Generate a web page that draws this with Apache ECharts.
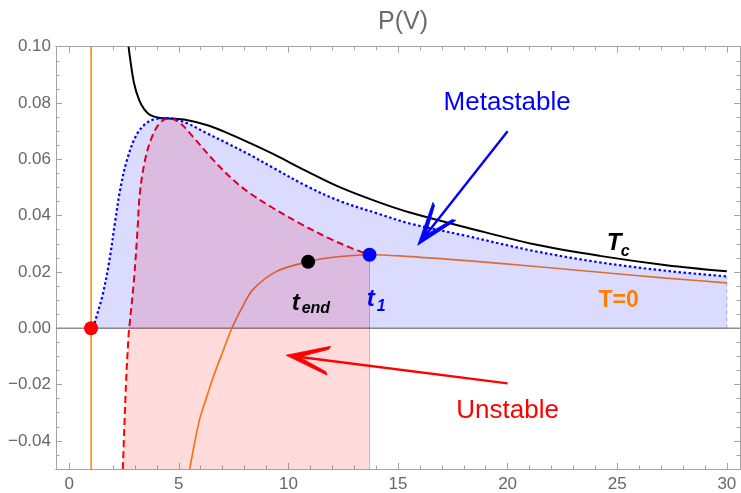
<!DOCTYPE html>
<html>
<head>
<meta charset="utf-8">
<script src="https://cdn.jsdelivr.net/npm/echarts@6/dist/echarts.min.js"></script>
<style>
  html, body { margin: 0; padding: 0; background: #ffffff; }
  #chart { width: 741px; height: 493px; }
</style>
</head>
<body>
<div id="chart"></div>
<script>
// Critical isotherm T = Tc
const tcX = [2.71, 2.77, 2.96, 3.19, 3.42, 3.68, 4.14, 4.56, 5.35, 6.27, 7.18, 8.24, 9.30, 10.83, 12.34, 14.17, 15.54, 18.12, 21.16, 24.2, 27.24, 30.0];
const tcY = [0.100, 0.0964, 0.0870, 0.0811, 0.0778, 0.0758, 0.0747, 0.0745, 0.0740, 0.0722, 0.0695, 0.0658, 0.0619, 0.0558, 0.0501, 0.0446, 0.0411, 0.0358, 0.0299, 0.0257, 0.0224, 0.0202];

// Coexistence curve (metastable boundary)
const coexX = [1.10, 1.22, 1.52, 1.82, 2.10, 2.31, 2.62, 3.07, 3.53, 3.99, 4.56, 5.35, 6.27, 7.18, 8.24, 9.30, 10.83, 12.34, 14.17, 15.54, 18.12, 21.16, 24.2, 27.24, 30.0];
const coexY = [0.000, 0.0034, 0.0116, 0.0234, 0.0380, 0.0485, 0.0593, 0.0687, 0.0729, 0.0744, 0.0746, 0.0729, 0.0693, 0.0658, 0.0616, 0.0570, 0.0505, 0.0452, 0.0405, 0.0372, 0.0328, 0.0275, 0.0234, 0.0204, 0.0184];

// Spinodal curve (unstable boundary)
const spinX = [2.45, 2.59, 2.71, 2.74, 2.96, 3.12, 3.22, 3.45, 3.76, 4.14, 4.56, 5.05, 5.65, 6.57, 7.48, 8.24, 9.30, 10.6, 11.89, 12.8, 13.7];
const spinY = [-0.050, -0.0202, -0.0025, 0.000, 0.0175, 0.0352, 0.0475, 0.0593, 0.0676, 0.0729, 0.0746, 0.0729, 0.0680, 0.0598, 0.0527, 0.0480, 0.0427, 0.0369, 0.0318, 0.0287, 0.0261];

// Zero-temperature isotherm T = 0
const t0X = [5.50, 5.93, 6.27, 6.54, 7.00, 7.42, 7.90, 8.39, 9.46, 10.9, 12.04, 13.7, 15.08, 18.12, 21.16, 24.2, 27.24, 30.0];
const t0Y = [-0.050, -0.0330, -0.0245, -0.0180, -0.0085, 0.000, 0.0075, 0.0138, 0.0202, 0.0236, 0.0252, 0.0261, 0.0257, 0.0240, 0.0220, 0.0199, 0.0178, 0.0161];
const wallX = [1, 1];
const wallY = [-0.05, 0.10];

// Marked states
const ptX = [1.0, 10.9, 13.7];
const ptY = [0.0, 0.0236, 0.0261];
const ptColor = ['#ff0000', '#000000', '#0000ff'];

// Axis ticks
const xMajor = [0, 5, 10, 15, 20, 25, 30];
const yMajor = [-0.04, -0.02, 0.00, 0.02, 0.04, 0.06, 0.08, 0.10];
const xMinor = [];
for (let i = 0; i <= 30; i++) xMinor.push(i);
const yMinor = [];
for (let i = -10; i <= 20; i++) yMinor.push(+(i * 0.005).toFixed(3));

const X_MIN = -0.6, X_MAX = 30.6, Y_MIN = -0.05, Y_MAX = 0.10;
const FONT = '"Liberation Sans", Arial, Helvetica, sans-serif';
const FRAME = '#a3a3a3';
const LABEL = '#676767';
const SMOOTH = 0.35;

const zip = (xs, ys) => xs.map((x, i) => [x, ys[i]]);

function xAxisDef(position, ticks, len, withLabels) {
  return {
    type: 'value', position: position, min: X_MIN, max: X_MAX,
    axisLine: { show: true, onZero: false, lineStyle: { color: FRAME, width: 1 } },
    axisTick: { show: true, inside: true, length: len, customValues: ticks, lineStyle: { color: FRAME, width: 1 } },
    axisLabel: withLabels ? {
      show: true, customValues: ticks, margin: 7, color: LABEL, fontSize: 17, fontFamily: FONT,
      formatter: v => String(v)
    } : { show: false },
    splitLine: { show: false }
  };
}
function yAxisDef(position, ticks, len, withLabels) {
  return {
    type: 'value', position: position, min: Y_MIN, max: Y_MAX,
    axisLine: { show: true, onZero: false, lineStyle: { color: FRAME, width: 1 } },
    axisTick: { show: true, inside: true, length: len, customValues: ticks, lineStyle: { color: FRAME, width: 1 } },
    axisLabel: withLabels ? {
      show: true, customValues: ticks, margin: 5, color: LABEL, fontSize: 17, fontFamily: FONT,
      formatter: v => (v < -1e-9 ? '\u2212' : '') + Math.abs(v).toFixed(2)
    } : { show: false },
    splitLine: { show: false }
  };
}

// Text annotations: plain labels centred on their anchor, subscripted symbols left-anchored
const notes = [
  { x: 19.98, y: 0.0799, main: 'Metastable', color: '#0000ff', font: '26px ' + FONT, align: 'center' },
  { x: 20.0, y: -0.0292, main: 'Unstable', color: '#ff0000', font: '26px ' + FONT, align: 'center' },
  { x: 25.06, y: 0.0098, main: 'T=0', color: '#ff8000', font: 'bold 23px ' + FONT, align: 'center' },
  { x: 24.52, y: 0.0302, main: 'T', sub: 'c', color: '#000000', dx: 14, dy: 8, align: 'left' },
  { x: 10.15, y: 0.0090, main: 't', sub: 'end', color: '#000000', dx: 10, dy: 6, align: 'left' },
  { x: 13.57, y: 0.0104, main: 't', sub: '1', color: '#0000ff', dx: 10, dy: 8, align: 'left' }
];

// Arrows from the labels to the regions they name
const arrows = [
  { from: [20.0, 0.0700], to: [15.9, 0.0295], color: '#0000ff' },
  { from: [20.0, -0.0196], to: [9.9, -0.0096], color: '#ff0000' }
];

function renderArrow(params, api) {
  const a = arrows[params.dataIndex];
  const p0 = api.coord(a.from);
  const p1 = api.coord(a.to);
  const dx = p1[0] - p0[0], dy = p1[1] - p0[1];
  const len = Math.hypot(dx, dy);
  const ux = dx / len, uy = dy / len;   // unit along arrow
  const nx = -uy, ny = ux;               // unit normal
  const L = 43, W = 14.5, T = 3.2, C = 13;
  const pt = (u, v) => [p1[0] - ux * u + nx * v, p1[1] - uy * u + ny * v];
  return {
    type: 'group',
    children: [
      { type: 'line', shape: { x1: p0[0], y1: p0[1], x2: p1[0] - ux * 6, y2: p1[1] - uy * 6 },
        style: { stroke: a.color, lineWidth: 2.4 } },
      { type: 'polygon',
        shape: { points: [pt(0, 0), pt(L, W), pt(L - 1.5, W - T), pt(C, 0), pt(L - 1.5, -(W - T)), pt(L, -W)] },
        style: { fill: a.color, stroke: a.color, lineWidth: 0.8, lineJoin: 'miter' } }
    ]
  };
}

function renderNote(params, api) {
  const n = notes[params.dataIndex];
  const p = api.coord([n.x, n.y]);
  const children = [];
  if (!n.sub) {
    children.push({ type: 'text', x: p[0], y: p[1],
      style: { text: n.main, fill: n.color, font: n.font, align: n.align, verticalAlign: 'middle' } });
  } else {
    children.push({ type: 'text', x: p[0], y: p[1],
      style: { text: n.main, fill: n.color, font: 'italic bold 24px ' + FONT, align: 'left', verticalAlign: 'middle' } });
    children.push({ type: 'text', x: p[0] + n.dx, y: p[1] + n.dy,
      style: { text: n.sub, fill: n.color, font: 'italic bold 16px ' + FONT, align: 'left', verticalAlign: 'middle' } });
  }
  return { type: 'group', children: children };
}

const chart = echarts.init(document.getElementById('chart'), null, { renderer: 'canvas' });

const curve = (name, xs, ys, z, lineStyle, extra) => Object.assign({
  name: name, type: 'line', z: z, symbol: 'none', smooth: SMOOTH,
  data: zip(xs, ys), lineStyle: lineStyle
}, extra || {});

const option = {
  animation: false,
  backgroundColor: '#ffffff',
  title: {
    text: 'P(V)', left: 398, top: 5, textAlign: 'center',
    textStyle: { color: '#6b6b6b', fontSize: 25, fontWeight: 'normal', fontFamily: FONT }
  },
  grid: { left: 56, right: 1, top: 46.7, bottom: 22.3, containLabel: false },
  xAxis: [
    xAxisDef('bottom', xMajor, 6, true),
    xAxisDef('bottom', xMinor, 3.5, false),
    xAxisDef('top', xMajor, 6, false),
    xAxisDef('top', xMinor, 3.5, false)
  ],
  yAxis: [
    yAxisDef('left', yMajor, 6, true),
    yAxisDef('left', yMinor, 3.5, false),
    yAxisDef('right', yMajor, 6, false),
    yAxisDef('right', yMinor, 3.5, false)
  ],
  series: [
    { name: 'zero', type: 'line', z: 1, silent: true, symbol: 'none',
      data: [[X_MIN, 0], [X_MAX, 0]], lineStyle: { color: '#8f8f8f', width: 1.4 } },
    { name: 'wall', type: 'line', z: 2, symbol: 'none',
      data: zip(wallX, wallY), lineStyle: { color: '#ff8a14', width: 1.6 } },
    curve('T=0', t0X, t0Y, 2, { color: '#ff7f10', width: 1.6 }),
    curve('Tc', tcX, tcY, 2, { color: '#000000', width: 2 }),
    curve('spinodal', spinX, spinY, 2, { color: '#ff0000', width: 2, type: [7, 4] }),
    curve('coexistence', coexX, coexY, 2, { color: '#0000ff', width: 2.2, type: [2.5, 2.5] }),
    // translucent regions drawn over the curves
    curve('unstable', spinX, spinY, 3, { width: 0 },
      { silent: true, areaStyle: { color: 'rgba(255,0,0,0.2)', origin: 'start' } }),
    { name: 'unstableEdge', type: 'line', z: 3, silent: true, symbol: 'none',
      data: [[spinX[spinX.length - 1], Y_MIN], [spinX[spinX.length - 1], spinY[spinY.length - 1]]],
      lineStyle: { color: 'rgba(255,0,0,0.3)', width: 1 } },
    curve('metastable', coexX, coexY, 4, { width: 0 },
      { silent: true, areaStyle: { color: 'rgba(0,0,255,0.2)', origin: 0 } }),
    { name: 'metastableEdge', type: 'line', z: 4, silent: true, symbol: 'none',
      data: [[coexX[coexX.length - 1], 0], [coexX[coexX.length - 1], coexY[coexY.length - 1]]],
      lineStyle: { color: 'rgba(0,0,255,0.3)', width: 1, type: [4, 3] } },
    { name: 'states', type: 'scatter', z: 6, symbolSize: 14,
      data: ptX.map((x, i) => ({ value: [x, ptY[i]], itemStyle: { color: ptColor[i], opacity: 1 } })) },
    { name: 'arrows', type: 'custom', z: 7, coordinateSystem: 'cartesian2d', silent: true,
      renderItem: renderArrow, data: arrows.map(a => [a.to[0], a.to[1]]) },
    { name: 'notes', type: 'custom', z: 7, coordinateSystem: 'cartesian2d', silent: true,
      renderItem: renderNote, data: notes.map(n => [n.x, n.y]) }
  ]
};

chart.setOption(option);
</script>
</body>
</html>
